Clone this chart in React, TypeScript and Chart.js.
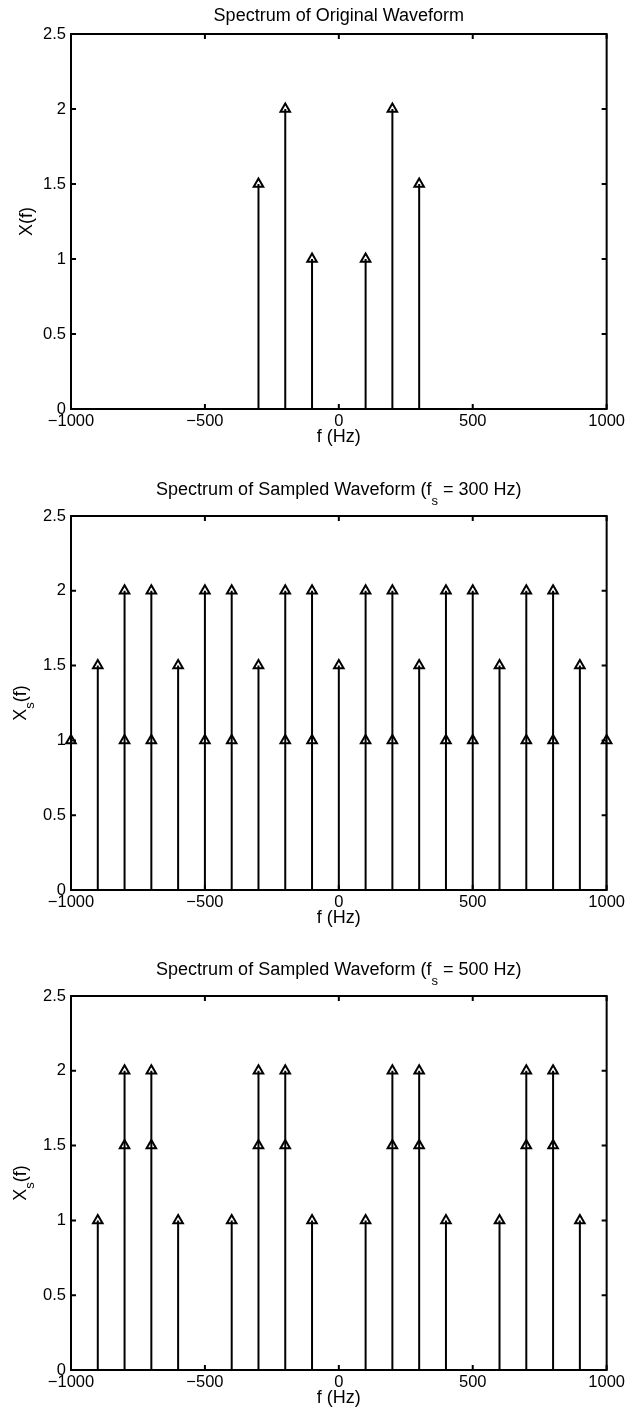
import React, { useEffect, useRef } from "react";
import { Chart, registerables } from "chart.js";

Chart.register(...registerables);

// ---------- data ----------
const X_TICKS = [-1000, -500, 0, 500, 1000];
const X_TICK_LABELS = ["\u22121000", "\u2212500", "0", "500", "1000"];
const Y_TICKS = [0, 0.5, 1, 1.5, 2, 2.5];
const Y_TICK_LABELS = ["0", "0.5", "1", "1.5", "2", "2.5"];

// Spectrum of original waveform
const origFreqs = [-300, -200, -100, 100, 200, 300];
const origValues = [1.5, 2, 1, 1, 2, 1.5];

// Spectrum sampled at fs = 300 Hz (every visible marker)
const fs300Freqs = [
  -1000, -900, -800, -800, -700, -700, -600, -500, -500, -400, -400, -300,
  -200, -200, -100, -100, 0, 100, 100, 200, 200, 300, 400, 400, 500, 500,
  600, 700, 700, 800, 800, 900, 1000,
];
const fs300Values = [
  1, 1.5, 2, 1, 2, 1, 1.5, 2, 1, 2, 1, 1.5,
  2, 1, 2, 1, 1.5, 2, 1, 2, 1, 1.5, 2, 1, 2, 1,
  1.5, 2, 1, 2, 1, 1.5, 1,
];

// Spectrum sampled at fs = 500 Hz
const fs500Freqs = [
  -900, -800, -800, -700, -700, -600, -400, -300, -300, -200, -200, -100,
  100, 200, 200, 300, 300, 400, 600, 700, 700, 800, 800, 900,
];
const fs500Values = [
  1, 2, 1.5, 2, 1.5, 1, 1, 2, 1.5, 2, 1.5, 1,
  1, 2, 1.5, 2, 1.5, 1, 1, 2, 1.5, 2, 1.5, 1,
];

type Seg = { text: string; sub?: boolean };

const TITLE_1: Seg[] = [{ text: "Spectrum of Original Waveform" }];
const TITLE_2: Seg[] = [
  { text: "Spectrum of Sampled Waveform (f" },
  { text: "s", sub: true },
  { text: " = 300 Hz)" },
];
const TITLE_3: Seg[] = [
  { text: "Spectrum of Sampled Waveform (f" },
  { text: "s", sub: true },
  { text: " = 500 Hz)" },
];
const YLABEL_1: Seg[] = [{ text: "X(f)" }];
const YLABEL_S: Seg[] = [{ text: "X" }, { text: "s", sub: true }, { text: "(f)" }];
const XLABEL = "f (Hz)";

// ---------- styles / layout ----------
const FAMILY = '"Liberation Sans", Arial, Helvetica, sans-serif';
const TICK_SIZE = 16.5;
const LABEL_SIZE = 18;
const SUB_SIZE = 13;

type PanelCfg = {
  top: number;
  height: number;
  plotTop: number;
  freqs: number[];
  values: number[];
  title: Seg[];
  titleBaseline: number;
  titleSubShift: number;
  yLabel: Seg[];
  yLabelX: number;
  ySubShift: number;
};

const PANELS: PanelCfg[] = [
  {
    top: 0, height: 460, plotTop: 34,
    freqs: origFreqs, values: origValues,
    title: TITLE_1, titleBaseline: 21, titleSubShift: 10,
    yLabel: YLABEL_1, yLabelX: 32, ySubShift: 8,
  },
  {
    top: 460, height: 481, plotTop: 56,
    freqs: fs300Freqs, values: fs300Values,
    title: TITLE_2, titleBaseline: 35, titleSubShift: 10,
    yLabel: YLABEL_S, yLabelX: 26, ySubShift: 8,
  },
  {
    top: 940, height: 481, plotTop: 56,
    freqs: fs500Freqs, values: fs500Values,
    title: TITLE_3, titleBaseline: 35, titleSubShift: 10,
    yLabel: YLABEL_S, yLabelX: 26, ySubShift: 8,
  },
];

function drawRich(
  ctx: CanvasRenderingContext2D,
  segs: Seg[],
  cx: number,
  baseline: number,
  subShift: number
) {
  const mainFont = `${LABEL_SIZE}px ${FAMILY}`;
  const subFont = `${SUB_SIZE}px ${FAMILY}`;
  let total = 0;
  const widths = segs.map((s) => {
    ctx.font = s.sub ? subFont : mainFont;
    const w = ctx.measureText(s.text).width;
    total += w;
    return w;
  });
  let x = cx - total / 2;
  ctx.textAlign = "left";
  ctx.textBaseline = "alphabetic";
  ctx.fillStyle = "#000";
  segs.forEach((s, i) => {
    ctx.font = s.sub ? subFont : mainFont;
    ctx.fillText(s.text, x, baseline + (s.sub ? subShift : 0));
    x += widths[i];
  });
}

function Panel({ cfg }: { cfg: PanelCfg }) {
  const ref = useRef<HTMLCanvasElement | null>(null);

  useEffect(() => {
    const canvas = ref.current;
    if (!canvas) return;

    const stemData = cfg.freqs.flatMap((f, i) => [
      { x: f, y: 0 },
      { x: f, y: cfg.values[i] },
      { x: f, y: null as any },
    ]);
    const markerData = cfg.freqs.map((f, i) => ({ x: f, y: cfg.values[i] }));

    const deco = {
      id: "deco",
      afterDraw(chart: any) {
        const { ctx, chartArea } = chart;
        const { left, right, top, bottom } = chartArea;
        const xs = chart.scales.x;
        const ys = chart.scales.y;
        ctx.save();
        // frame
        ctx.strokeStyle = "#000";
        ctx.lineWidth = 2;
        ctx.strokeRect(left, top, right - left, bottom - top);
        // inward ticks on all four sides
        const TL = 5;
        ctx.beginPath();
        X_TICKS.forEach((v) => {
          const px = xs.getPixelForValue(v);
          ctx.moveTo(px, bottom);
          ctx.lineTo(px, bottom - TL);
          ctx.moveTo(px, top);
          ctx.lineTo(px, top + TL);
        });
        Y_TICKS.forEach((v) => {
          const py = ys.getPixelForValue(v);
          ctx.moveTo(left, py);
          ctx.lineTo(left + TL, py);
          ctx.moveTo(right, py);
          ctx.lineTo(right - TL, py);
        });
        ctx.stroke();
        // title
        drawRich(ctx, cfg.title, (left + right) / 2, cfg.titleBaseline, cfg.titleSubShift);
        // y label (rotated)
        ctx.translate(cfg.yLabelX, (top + bottom) / 2);
        ctx.rotate(-Math.PI / 2);
        drawRich(ctx, cfg.yLabel, 0, 0, cfg.ySubShift);
        ctx.restore();
      },
    };

    const chart = new Chart(canvas, {
      type: "scatter",
      data: {
        datasets: [
          {
            data: stemData as any,
            showLine: true,
            spanGaps: false,
            borderColor: "#000",
            borderWidth: 2,
            pointRadius: 0,
            pointHoverRadius: 0,
            order: 2,
          },
          {
            data: markerData,
            showLine: false,
            pointStyle: "triangle",
            pointRadius: 5.5,
            pointHoverRadius: 5.5,
            pointBorderWidth: 2,
            pointBorderColor: "#000",
            pointBackgroundColor: "rgba(0,0,0,0)",
            clip: false as any,
            order: 1,
          },
        ],
      },
      options: {
        responsive: false,
        animation: false,
        events: [],
        layout: { padding: { left: 0, right: 21, top: cfg.plotTop, bottom: 0 } },
        plugins: {
          legend: { display: false },
          tooltip: { enabled: false },
          title: { display: false },
        },
        scales: {
          x: {
            type: "linear",
            min: -1000,
            max: 1000,
            afterBuildTicks: (s: any) => {
              s.ticks = X_TICKS.map((v) => ({ value: v }));
            },
            afterFit: (s: any) => {
              s.height = 51;
            },
            ticks: {
              autoSkip: false,
              maxRotation: 0,
              padding: 3,
              color: "#000",
              font: { family: FAMILY, size: TICK_SIZE },
              callback: (v: any) => X_TICK_LABELS[X_TICKS.indexOf(Number(v))] ?? String(v),
            },
            grid: { display: false, drawTicks: false },
            border: { display: false },
            title: {
              display: true,
              text: XLABEL,
              color: "#000",
              font: { family: FAMILY, size: LABEL_SIZE },
              padding: { top: 0, bottom: 12.5 },
            },
          },
          y: {
            type: "linear",
            min: 0,
            max: 2.5,
            afterBuildTicks: (s: any) => {
              s.ticks = Y_TICKS.map((v) => ({ value: v }));
            },
            afterFit: (s: any) => {
              s.width = 71;
            },
            ticks: {
              autoSkip: false,
              padding: 5,
              color: "#000",
              font: { family: FAMILY, size: TICK_SIZE },
              callback: (v: any) => Y_TICK_LABELS[Y_TICKS.indexOf(Number(v))] ?? String(v),
            },
            grid: { display: false, drawTicks: false },
            border: { display: false },
          },
        },
      },
      plugins: [deco as any],
    });

    return () => chart.destroy();
  }, [cfg]);

  return (
    <canvas
      ref={ref}
      width={628}
      height={cfg.height}
      style={{
        position: "absolute",
        left: 0,
        top: cfg.top,
        width: 628,
        height: cfg.height,
        display: "block",
      }}
    />
  );
}

export default function App() {
  return (
    <div
      style={{
        position: "absolute",
        left: 0,
        top: 0,
        width: 628,
        height: 1412,
        overflow: "hidden",
        background: "#fff",
      }}
    >
      {PANELS.map((p, i) => (
        <Panel key={i} cfg={p} />
      ))}
    </div>
  );
}
